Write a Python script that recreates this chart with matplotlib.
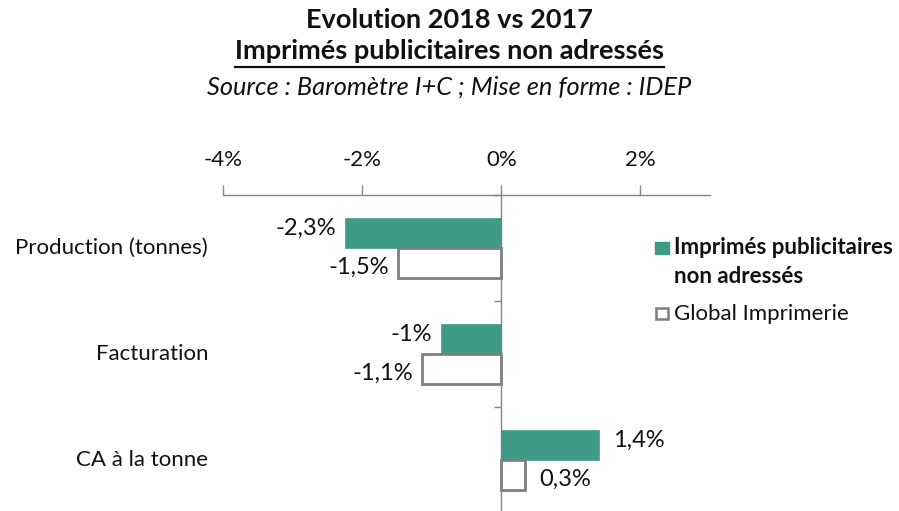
import matplotlib
matplotlib.use("Agg")
import matplotlib.pyplot as plt
from matplotlib.patches import Rectangle
from matplotlib.lines import Line2D
from matplotlib.ticker import FuncFormatter

plt.rcParams['font.family'] = ['Lato', 'DejaVu Sans']

categories = ["Production (tonnes)", "Facturation", "CA à la tonne"]
series_names = ["Imprimés publicitaires\nnon adressés", "Global Imprimerie"]
imprimes = [-2.25, -0.87, 1.40]
global_imp = [-1.48, -1.14, 0.34]
imprimes_labels = ["-2,3%", "-1%", "1,4%"]
global_labels = ["-1,5%", "-1,1%", "0,3%"]
xticks = [-4, -2, 0, 2]

GREEN = "#3F9B88"
GRAY = "#868686"
TXT = "#111111"
FS = 16
W, H = 899, 511
fig = plt.figure(figsize=(W / 100, H / 100), dpi=100)

def fx(px):
    return px / W

def fy(py):
    return 1 - py / H

ax_w = 710 - 223
ax = fig.add_axes([fx(223), fy(513), fx(710) - fx(223), fy(195) - fy(513)])
ax.set_xlim(-4, 3)
ax.set_ylim(3, 0)

bh = 0.28
ys = [i + 0.5 for i in range(len(categories))]
ax.barh([y - bh / 2 for y in ys], imprimes, height=bh, color=GREEN, edgecolor=GREEN,
        linewidth=0.5, zorder=3)
ax.barh([y + bh / 2 for y in ys], global_imp, height=bh, color="white", edgecolor="#7F7F7F",
        linewidth=2.0, zorder=3)

def add_label(x, y, txt, dy):
    off = 14 if x >= 0 else -9
    ax.annotate(txt, xy=(x, y), xytext=(off, dy), textcoords="offset pixels",
                ha="left" if x >= 0 else "right", va="center", fontsize=17, color=TXT)

for x, y, t in zip(imprimes, ys, imprimes_labels):
    add_label(x, y - bh / 2, t, 5)
for x, y, t in zip(global_imp, ys, global_labels):
    add_label(x, y + bh / 2, t, -5)

# axes styling
for s in ["bottom", "right"]:
    ax.spines[s].set_visible(False)
ax.spines["top"].set_color(GRAY)
ax.spines["left"].set_color(GRAY)
ax.spines["left"].set_position(("data", 0))
ax.spines["top"].set_linewidth(1.0)
ax.spines["left"].set_linewidth(1.0)
ax.xaxis.tick_top()
ax.set_xticks(xticks)
ax.xaxis.set_major_formatter(FuncFormatter(lambda v, p: f"{v:.0f}%"))
ax.tick_params(axis="x", direction="out", length=7, width=1, color=GRAY, pad=11,
               labelsize=FS, labelcolor=TXT)
ax.set_yticks([0, 1, 2, 3])
ax.set_yticklabels([])
ax.tick_params(axis="y", direction="out", length=5, width=1, color=GRAY)

for y, c in zip(ys, categories):
    ax.text(-15 / ax_w, y, c, transform=ax.get_yaxis_transform(), ha="right", va="center",
            fontsize=FS, color=TXT)

# titles
fig.text(0.5, fy(28), "Evolution 2018 vs 2017", ha="center", va="baseline",
         fontsize=19.5, fontweight="bold", color=TXT)
t2 = fig.text(0.5, fy(59), "Imprimés publicitaires non adressés", ha="center", va="baseline",
              fontsize=19.5, fontweight="bold", color=TXT)
fig.text(0.5, fy(95), "Source : Baromètre I+C ; Mise en forme : IDEP", ha="center", va="baseline",
         fontsize=18.3, fontstyle="italic", color=TXT)
fig.canvas.draw()
bb = t2.get_window_extent()
fig.add_artist(Line2D([bb.x0 / W, bb.x1 / W], [fy(67), fy(67)], color=TXT, linewidth=1.6))

# legend (manual)
fig.add_artist(Rectangle((fx(655), fy(254)), fx(669) - fx(655), fy(242) - fy(254),
                         facecolor=GREEN, edgecolor=GREEN, transform=fig.transFigure))
name1_lines = series_names[0].split("\n")
fig.text(fx(674), fy(254), name1_lines[0], ha="left", va="baseline", fontsize=FS,
         fontweight="bold", color=TXT)
fig.text(fx(674), fy(283), name1_lines[1], ha="left", va="baseline", fontsize=FS,
         fontweight="bold", color=TXT)
fig.add_artist(Rectangle((fx(656), fy(319)), fx(668) - fx(656), fy(308) - fy(319),
                         facecolor="white", edgecolor="#7F7F7F", linewidth=1.8,
                         transform=fig.transFigure))
fig.text(fx(674), fy(320), series_names[1], ha="left", va="baseline", fontsize=FS,
         color=TXT)

fig.savefig("out.png", dpi=100)
